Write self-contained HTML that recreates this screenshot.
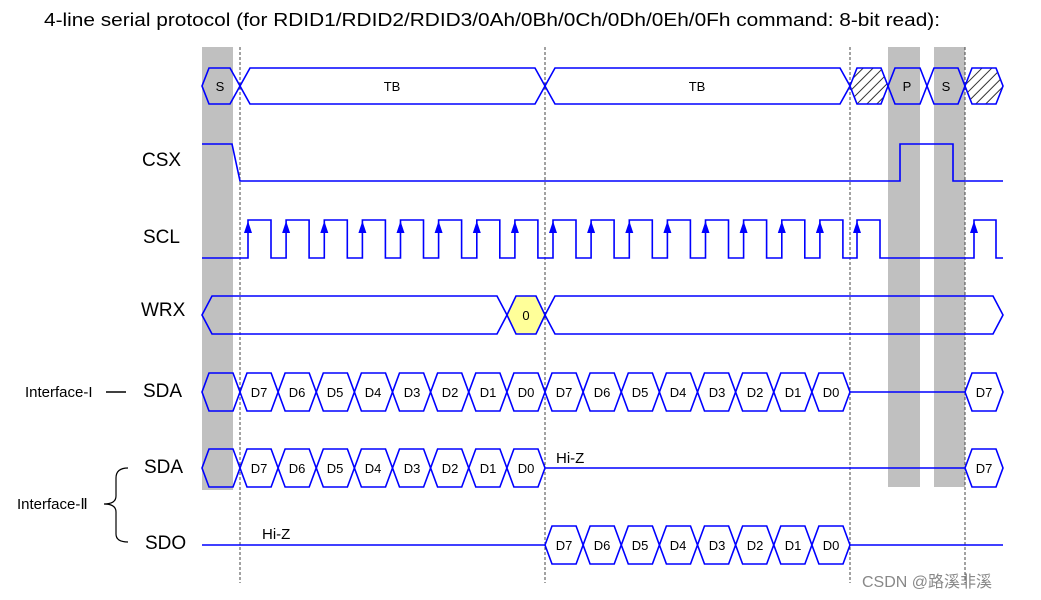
<!DOCTYPE html>
<html><head><meta charset="utf-8"><style>
html,body{margin:0;padding:0;background:#fff;}
svg{display:block;font-family:"Liberation Sans",Arial,sans-serif;}
</style></head><body>
<svg width="1041" height="600" viewBox="0 0 1041 600" xmlns="http://www.w3.org/2000/svg">
<defs>
<pattern id="h" width="7" height="7" patternUnits="userSpaceOnUse" patternTransform="rotate(45)">
<rect width="7" height="7" fill="#fff"/><line x1="0" y1="0" x2="0" y2="7" stroke="#333" stroke-width="2"/>
</pattern>
</defs>
<text x="44" y="26" font-size="18" fill="#000" textLength="896" lengthAdjust="spacingAndGlyphs">4-line serial protocol (for RDID1/RDID2/RDID3/0Ah/0Bh/0Ch/0Dh/0Eh/0Fh command: 8-bit read):</text>

<rect x="202" y="47" width="31" height="443" fill="#c0c0c0"/>
<rect x="888" y="47" width="32" height="440" fill="#c0c0c0"/>
<rect x="934" y="47" width="31" height="440" fill="#c0c0c0"/>

<g stroke="#444" stroke-width="1" stroke-dasharray="3,2">
<line x1="240" y1="47" x2="240" y2="583"/>
<line x1="545" y1="47" x2="545" y2="583"/>
<line x1="850" y1="47" x2="850" y2="583"/>
<line x1="965" y1="47" x2="965" y2="583"/>
</g>

<g fill="none" stroke="#0000ff" stroke-width="1.6">
<polygon points="202,86 209,68 230,68 240,86 230,104 209,104"/>
<polygon points="240,86 250,68 535,68 545,86 535,104 250,104"/>
<polygon points="545,86 555,68 840,68 850,86 840,104 555,104"/>
<polygon points="850,86 857,68 881,68 888,86 881,104 857,104" fill="url(#h)"/>
<polygon points="888,86 895,68 920,68 927,86 920,104 895,104"/>
<polygon points="927,86 934,68 958,68 965,86 958,104 934,104"/>
<polygon points="965,86 972,68 996,68 1003,86 996,104 972,104" fill="url(#h)"/>
<polyline points="202,144 232,144 240,181 900,181 900,144 953,144 953,181 1003,181"/>
<path d="M202 258 H248 V220 H271 V258 H286.1 V220 H309.1 V258 H324.3 V220 H347.3 V258 H362.4 V220 H385.4 V258 H400.5 V220 H423.5 V258 H438.6 V220 H461.6 V258 H476.8 V220 H499.8 V258 H514.9 V220 H537.9 V258 H553 V220 H576 V258 H591.1 V220 H614.1 V258 H629.3 V220 H652.3 V258 H667.4 V220 H690.4 V258 H705.5 V220 H728.5 V258 H743.6 V220 H766.6 V258 H781.8 V220 H804.8 V258 H819.9 V220 H842.9 V258 H857 V220 H880 V258 H974 V220 H996 V258 H1003"/>
<polygon points="202,315 212,296 497,296 507,315 497,334 212,334"/>
<polygon points="507,315 516,296 536,296 545,315 536,334 516,334" fill="#ffff99"/>
<polygon points="545,315 555,296 993,296 1003,315 993,334 555,334"/>
<polygon points="202,392 209,373 233,373 240,392 233,411 209,411"/>
<line x1="850" y1="392" x2="965" y2="392"/>
<polygon points="965,392 972,373 996,373 1003,392 996,411 972,411"/>
<polygon points="202,468 209,449 233,449 240,468 233,487 209,487"/>
<line x1="545" y1="468" x2="965" y2="468"/>
<polygon points="965,468 972,449 996,449 1003,468 996,487 972,487"/>
<line x1="202" y1="545" x2="545" y2="545"/>
<line x1="850" y1="545" x2="1003" y2="545"/>
</g>

<g fill="none" stroke="#0000ff" stroke-width="1.6">
<g transform="translate(0,392)">
<path d="M240 0 l7 -19 h24.1 l7 19 l-7 19 h-24.1z M278.1 0 l7 -19 h24.1 l7 19 l-7 19 h-24.1z M316.3 0 l7 -19 h24.1 l7 19 l-7 19 h-24.1z M354.4 0 l7 -19 h24.1 l7 19 l-7 19 h-24.1z M392.5 0 l7 -19 h24.1 l7 19 l-7 19 h-24.1z M430.6 0 l7 -19 h24.1 l7 19 l-7 19 h-24.1z M468.8 0 l7 -19 h24.1 l7 19 l-7 19 h-24.1z M506.9 0 l7 -19 h24.1 l7 19 l-7 19 h-24.1z M545 0 l7 -19 h24.1 l7 19 l-7 19 h-24.1z M583.1 0 l7 -19 h24.1 l7 19 l-7 19 h-24.1z M621.3 0 l7 -19 h24.1 l7 19 l-7 19 h-24.1z M659.4 0 l7 -19 h24.1 l7 19 l-7 19 h-24.1z M697.5 0 l7 -19 h24.1 l7 19 l-7 19 h-24.1z M735.6 0 l7 -19 h24.1 l7 19 l-7 19 h-24.1z M773.8 0 l7 -19 h24.1 l7 19 l-7 19 h-24.1z M811.9 0 l7 -19 h24.1 l7 19 l-7 19 h-24.1z"/>
</g>
<g transform="translate(0,468)">
<path d="M240 0 l7 -19 h24.1 l7 19 l-7 19 h-24.1z M278.1 0 l7 -19 h24.1 l7 19 l-7 19 h-24.1z M316.3 0 l7 -19 h24.1 l7 19 l-7 19 h-24.1z M354.4 0 l7 -19 h24.1 l7 19 l-7 19 h-24.1z M392.5 0 l7 -19 h24.1 l7 19 l-7 19 h-24.1z M430.6 0 l7 -19 h24.1 l7 19 l-7 19 h-24.1z M468.8 0 l7 -19 h24.1 l7 19 l-7 19 h-24.1z M506.9 0 l7 -19 h24.1 l7 19 l-7 19 h-24.1z"/>
</g>
<g transform="translate(0,545)">
<path d="M545 0 l7 -19 h24.1 l7 19 l-7 19 h-24.1z M583.1 0 l7 -19 h24.1 l7 19 l-7 19 h-24.1z M621.3 0 l7 -19 h24.1 l7 19 l-7 19 h-24.1z M659.4 0 l7 -19 h24.1 l7 19 l-7 19 h-24.1z M697.5 0 l7 -19 h24.1 l7 19 l-7 19 h-24.1z M735.6 0 l7 -19 h24.1 l7 19 l-7 19 h-24.1z M773.8 0 l7 -19 h24.1 l7 19 l-7 19 h-24.1z M811.9 0 l7 -19 h24.1 l7 19 l-7 19 h-24.1z"/>
</g>
</g>

<g fill="#0000ff">
<path d="M244 233 L248 221 L252 233z M282.1 233 L286.1 221 L290.1 233z M320.3 233 L324.3 221 L328.3 233z M358.4 233 L362.4 221 L366.4 233z M396.5 233 L400.5 221 L404.5 233z M434.6 233 L438.6 221 L442.6 233z M472.8 233 L476.8 221 L480.8 233z M510.9 233 L514.9 221 L518.9 233z M549 233 L553 221 L557 233z M587.1 233 L591.1 221 L595.1 233z M625.3 233 L629.3 221 L633.3 233z M663.4 233 L667.4 221 L671.4 233z M701.5 233 L705.5 221 L709.5 233z M739.6 233 L743.6 221 L747.6 233z M777.8 233 L781.8 221 L785.8 233z M815.9 233 L819.9 221 L823.9 233z M853 233 L857 221 L861 233z M970 233 L974 221 L978 233z"/>
</g>

<g font-size="13" fill="#000" text-anchor="middle">
<text x="220" y="91">S</text>
<text x="392" y="91">TB</text>
<text x="697" y="91">TB</text>
<text x="907" y="91">P</text>
<text x="946" y="91">S</text>
<text x="526" y="320">0</text>
<g transform="translate(0,397)">
<text x="259" y="0">D7</text><text x="297" y="0">D6</text><text x="335" y="0">D5</text><text x="373" y="0">D4</text><text x="412" y="0">D3</text><text x="450" y="0">D2</text><text x="488" y="0">D1</text><text x="526" y="0">D0</text>
<text x="564" y="0">D7</text><text x="602" y="0">D6</text><text x="640" y="0">D5</text><text x="678" y="0">D4</text><text x="717" y="0">D3</text><text x="755" y="0">D2</text><text x="793" y="0">D1</text><text x="831" y="0">D0</text>
<text x="984" y="0">D7</text>
</g>
<g transform="translate(0,473)">
<text x="259" y="0">D7</text><text x="297" y="0">D6</text><text x="335" y="0">D5</text><text x="373" y="0">D4</text><text x="412" y="0">D3</text><text x="450" y="0">D2</text><text x="488" y="0">D1</text><text x="526" y="0">D0</text>
<text x="984" y="0">D7</text>
</g>
<g transform="translate(0,550)">
<text x="564" y="0">D7</text><text x="602" y="0">D6</text><text x="640" y="0">D5</text><text x="678" y="0">D4</text><text x="717" y="0">D3</text><text x="755" y="0">D2</text><text x="793" y="0">D1</text><text x="831" y="0">D0</text>
</g>
</g>
<text x="556" y="463" font-size="15">Hi-Z</text>
<text x="262" y="539" font-size="15">Hi-Z</text>

<g font-size="19" fill="#000">
<text x="142" y="166">CSX</text>
<text x="143" y="243">SCL</text>
<text x="141" y="316">WRX</text>
<text x="143" y="397">SDA</text>
<text x="144" y="473">SDA</text>
<text x="145" y="549">SDO</text>
</g>
<g font-size="15" fill="#000">
<text x="25" y="397">Interface-I</text>
<text x="17" y="509">Interface-Ⅱ</text>
</g>
<line x1="106" y1="392" x2="126" y2="392" stroke="#000" stroke-width="1.5"/>
<path d="M128 468 Q116 468 116 478 V496 Q116 504 104 504 Q116 504 116 512 V534 Q116 542 128 542" fill="none" stroke="#000" stroke-width="1.2"/>
<text x="862" y="587" font-size="16" fill="#888" font-family="Liberation Sans, Noto Sans CJK SC, sans-serif">CSDN @路溪非溪</text>
</svg>
</body></html>
